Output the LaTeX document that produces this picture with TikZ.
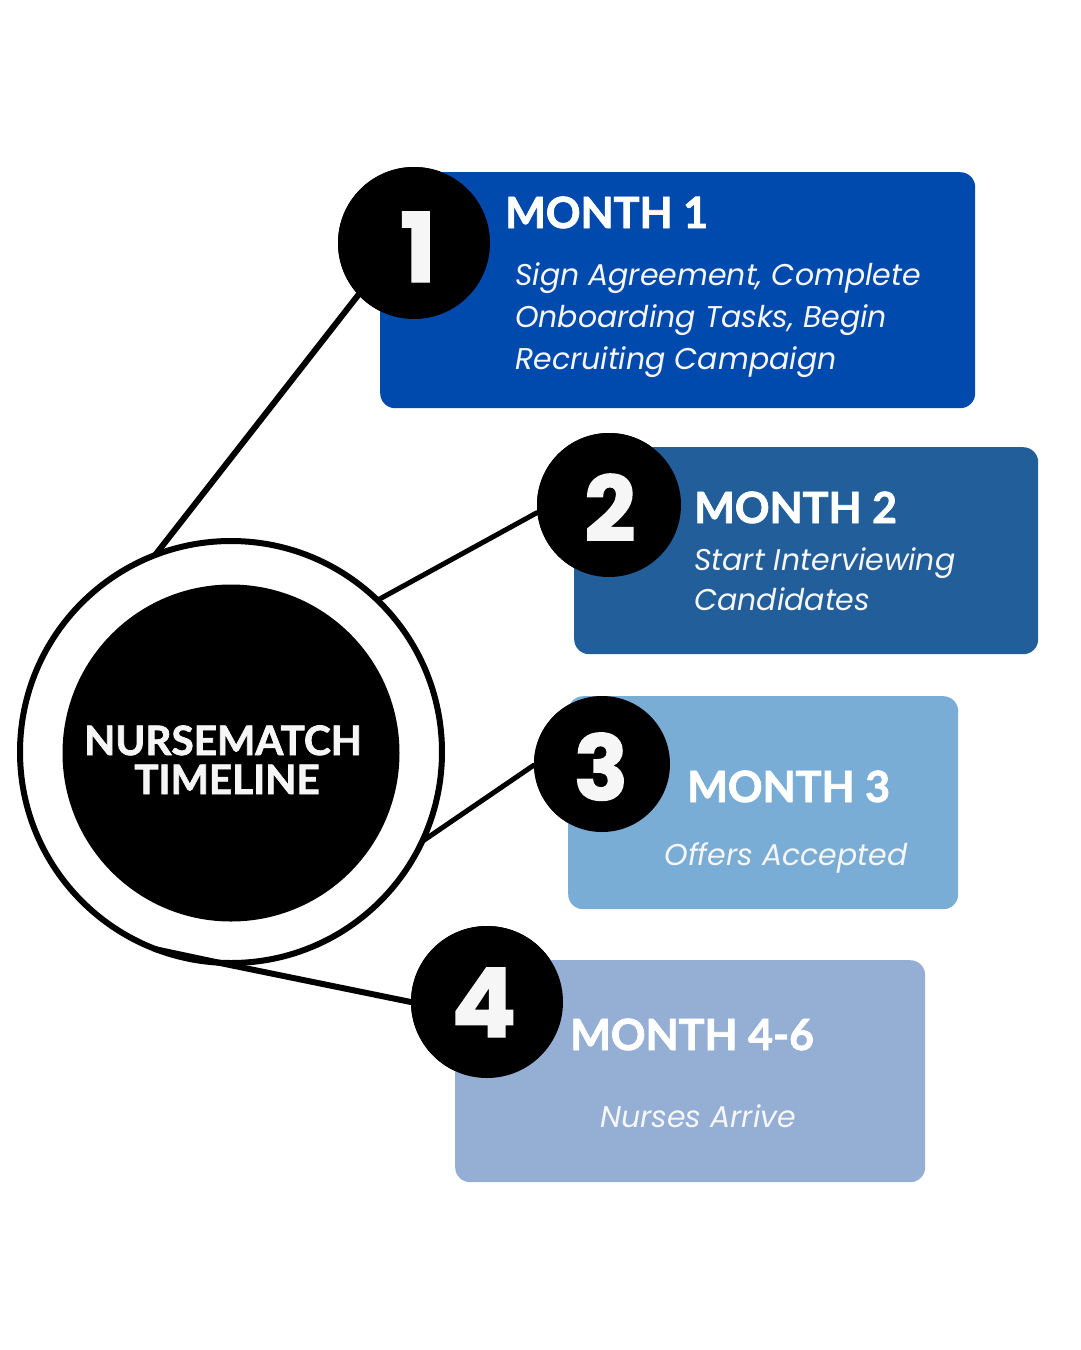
\documentclass[tikz,border=0pt]{standalone}
\usepackage{fontspec}
\setmainfont{Lato}[BoldFeatures={FakeBold=1.8}]
\newfontfamily\bodyfont{Poppins}
\newfontfamily\numfont{Poppins}[BoldFeatures={FakeBold=1.5}]
\begin{document}
\begin{tikzpicture}[x=1pt,y=-1pt,
  conn/.style={line width=6pt,line cap=round,line join=round,black},
  box/.style={rounded corners=15pt,inner sep=0pt,anchor=north west},
  numcirc/.style={circle,fill=black,inner sep=0pt},
  numtxt/.style={text=offwhite,font=\numfont\bfseries\fontsize{96}{96}\selectfont,anchor=base,inner sep=0pt},
  head/.style={text=white,font=\bfseries\fontsize{43}{43}\selectfont,anchor=base west,inner sep=0pt},
  body/.style={text=offwhite,font=\bodyfont\itshape\fontsize{30}{30}\selectfont,anchor=base west,inner sep=0pt},
  hubtxt/.style={text=offwhite,font=\bfseries\fontsize{40.5}{40.5}\selectfont,anchor=base,inner sep=0pt}]
\definecolor{offwhite}{HTML}{F6F6F6}
\definecolor{c1}{HTML}{004AAD}
\definecolor{c2}{HTML}{215E9A}
\definecolor{c3}{HTML}{7AADD5}
\definecolor{c4}{HTML}{94AED4}
\useasboundingbox[fill=white] (0,0) rectangle (1080,1350);

% hub geometry (for anchors)
\node[circle,minimum size=422pt,inner sep=0pt] (hub) at (231,752) {};
% number circles
\node[numcirc,minimum size=152pt] (n1) at (414,243) {};
\node[numcirc,minimum size=144pt] (n2) at (609,505) {};
\node[numcirc,minimum size=136pt] (n3) at (602,764) {};
\node[numcirc,minimum size=152pt] (n4) at (487,1002) {};
\coordinate (k4) at (225,964);

% connectors
\draw[conn] (hub.111.6) -- (n1.223);
\draw[conn,line width=5pt] (hub.46.3) -- (n2.186);
\draw[conn,line width=5pt] (hub.-25.2) -- (n3.181);

% hub
\draw[line width=6pt,fill=white] (hub.center) circle (211pt);
\node[circle,fill=black,minimum size=337pt,inner sep=0pt] (core) at (231,753) {};
\node[hubtxt] (ht1) at (223,755) {NURSEMATCH};
\node[hubtxt] (ht2) at (227,794) {TIMELINE};
\draw[conn] (hub.249) -- (k4) -- (n4.180);

% boxes
\node[box,fill=c1,minimum width=595pt,minimum height=236pt] (b1) at (380,172) {};
\node[box,fill=c2,minimum width=464pt,minimum height=207pt] (b2) at (574,447) {};
\node[box,fill=c3,minimum width=390pt,minimum height=213pt] (b3) at (568,696) {};
\node[box,fill=c4,minimum width=470pt,minimum height=222pt] (b4) at (455,960) {};

% number circles on top
\node[numcirc,minimum size=152pt] at (n1) {};
\node[numcirc,minimum size=144pt] at (n2) {};
\node[numcirc,minimum size=136pt] at (n3) {};
\node[numcirc,minimum size=152pt] at (n4) {};
\node[numtxt] (d1) at (418,282) {1};
\node[numtxt,font=\numfont\bfseries\fontsize{90}{90}\selectfont] (d2) at (610,541) {2};
\node[numtxt,font=\numfont\bfseries\fontsize{90}{90}\selectfont] (d3) at (601,800) {3};
\node[numtxt] (d4) at (484,1037) {4};

% texts
\node[head] (h1) at (505,228) {MONTH 1};
\node[body] (t11) at (515,285) {Sign Agreement, Complete};
\node[body] (t12) at (515,327) {Onboarding Tasks, Begin};
\node[body] (t13) at (515,369) {Recruiting Campaign};

\node[head] (h2) at (694,523) {MONTH 2};
\node[body] (t21) at (694,570) {Start Interviewing};
\node[body] (t22) at (694,610) {Candidates};

\node[head] (h3) at (687,802) {MONTH 3};
\node[body,anchor=base] (t31) at (786,865) {Offers Accepted};

\node[head] (h4) at (570,1050) {MONTH 4-6};
\node[body,anchor=base] (t41) at (698,1127) {Nurses Arrive};
\end{tikzpicture}
\end{document}
